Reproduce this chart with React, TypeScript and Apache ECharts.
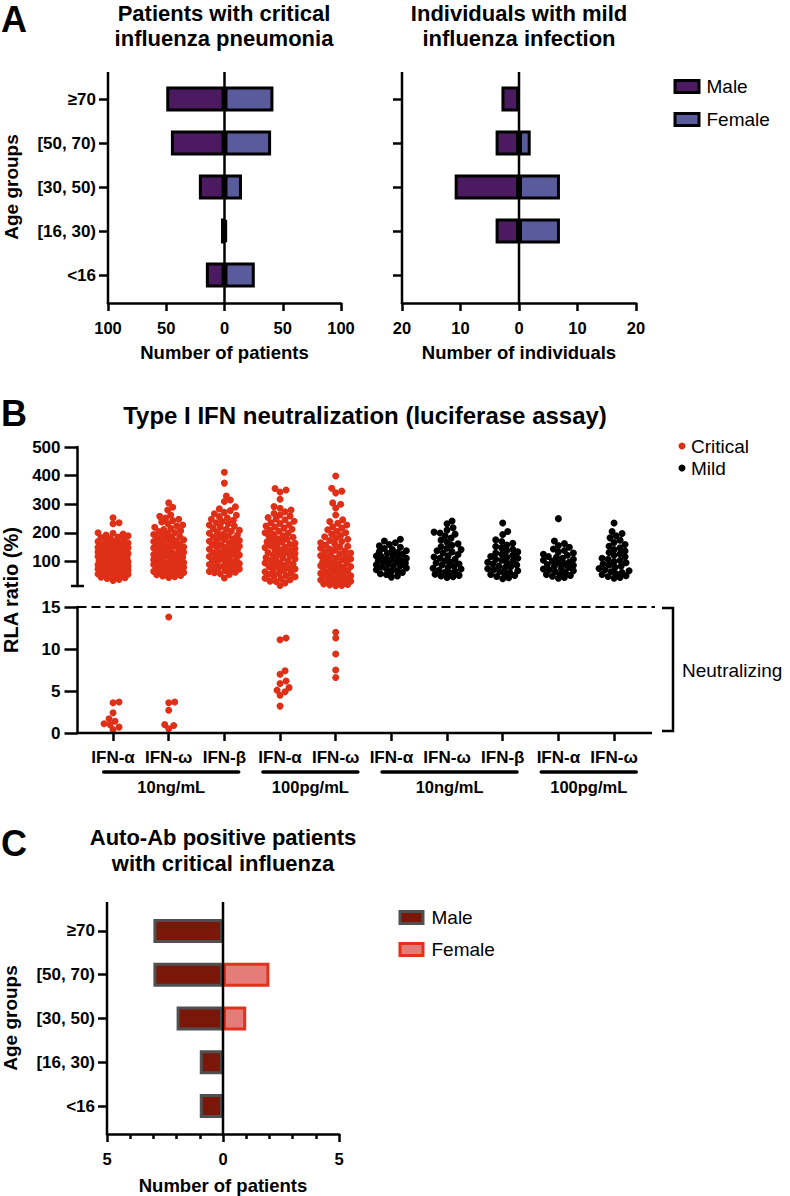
import React, { useEffect, useRef } from 'react';
import * as echarts from 'echarts';

const FONT = "'Liberation Sans', Arial, Helvetica, sans-serif";

// ---------------- Panel A data ----------------
const ageGroups = ['<16', '[16, 30)', '[30, 50)', '[50, 70)', '≥70'];
const criticalMale = [16, 3, 22, 46, 50];
const criticalFemale = [26, 2, 15, 40, 42];
const mildMale = [0, 4, 11, 4, 3];
const mildFemale = [0, 7, 7, 2, 0];

// ---------------- Panel B data ----------------
const ifnLabels = ['IFN-α', 'IFN-ω', 'IFN-β', 'IFN-α', 'IFN-ω', 'IFN-α', 'IFN-ω', 'IFN-β', 'IFN-α', 'IFN-ω'];
const doseLabels = ['10ng/mL', '100pg/mL', '10ng/mL', '100pg/mL'];
const doseSpans = [[0, 2], [3, 4], [5, 7], [8, 9]];
const rlaUpperTicks = [100, 200, 300, 400, 500];

// RLA ratio (%) >= 15, critical patients
const critIFNa10 = [34, 38, 41, 44, 46, 48, 49, 53, 55, 56, 57, 61, 63, 64, 66, 68, 71, 72, 74, 75, 78, 80, 82, 84, 85, 87, 89, 90, 93, 95, 97, 99, 100, 102, 103, 106, 108, 110, 112, 114, 115, 117, 118, 121, 122, 125, 127, 128, 130, 131, 134, 136, 139, 141, 142, 145, 147, 148, 150, 153, 155, 157, 160, 162, 165, 167, 170, 173, 175, 178, 181, 184, 186, 190, 193, 196, 199, 201, 232, 236, 253];
const critIFNw10 = [45, 47, 50, 52, 54, 55, 58, 60, 62, 64, 66, 68, 70, 73, 75, 78, 80, 83, 85, 88, 90, 92, 95, 97, 100, 102, 104, 107, 110, 112, 115, 117, 120, 122, 125, 127, 130, 133, 135, 138, 140, 143, 146, 148, 151, 154, 156, 159, 162, 165, 168, 170, 173, 176, 179, 182, 185, 188, 191, 195, 198, 201, 205, 208, 212, 216, 220, 224, 228, 233, 238, 243, 248, 252, 258, 263, 280, 290, 305];
const critIFNb10 = [43, 55, 58, 61, 63, 66, 69, 71, 74, 77, 80, 82, 85, 88, 90, 93, 96, 98, 101, 104, 107, 109, 112, 115, 118, 120, 123, 126, 129, 131, 134, 137, 140, 143, 145, 148, 151, 154, 157, 159, 162, 165, 168, 171, 174, 177, 180, 183, 186, 189, 192, 196, 199, 202, 206, 209, 213, 216, 220, 224, 228, 232, 236, 240, 244, 248, 252, 257, 262, 267, 272, 278, 284, 291, 310, 315, 329, 374, 412];
const critIFNa100 = [17, 26, 31, 32, 37, 41, 42, 47, 50, 51, 56, 59, 60, 65, 68, 69, 74, 77, 79, 83, 86, 87, 92, 95, 96, 101, 104, 105, 110, 113, 114, 119, 122, 124, 128, 131, 132, 137, 140, 141, 146, 149, 151, 155, 158, 160, 164, 168, 169, 174, 178, 180, 185, 188, 190, 195, 199, 201, 206, 210, 213, 217, 221, 224, 229, 233, 236, 241, 246, 249, 254, 259, 263, 268, 274, 280, 286, 292, 318, 343, 350, 355];
const critIFNw100 = [16, 17, 19, 20, 22, 25, 27, 29, 32, 34, 36, 39, 41, 44, 46, 49, 51, 54, 57, 59, 62, 64, 67, 70, 72, 75, 78, 80, 83, 86, 89, 91, 94, 97, 100, 103, 106, 109, 112, 115, 118, 121, 124, 127, 130, 134, 137, 140, 144, 147, 151, 154, 158, 162, 166, 170, 174, 178, 182, 187, 191, 196, 201, 206, 211, 217, 222, 228, 234, 240, 246, 263, 287, 300, 305, 340, 346, 356, 399];

// RLA ratio (%) < 15 (neutralizing), critical patients
const critLowIFNa10 = [0.4, 0.7, 1.0, 1.1, 1.4, 1.7, 2.4, 3.6, 3.7];
const critLowIFNw10 = [0.5, 0.9, 1.0, 2.7, 3.6, 3.7, 13.8];
const critLowIFNb10: number[] = [];
const critLowIFNa100 = [3.2, 4.5, 4.9, 5.1, 5.4, 5.9, 6.2, 7.0, 7.4, 11.1, 11.3];
const critLowIFNw100 = [6.6, 7.5, 9.4, 11.3, 12.0];

// mild individuals
const mildIFNa10 = [46, 50, 55, 58, 62, 66, 68, 72, 75, 78, 81, 84, 86, 89, 92, 95, 97, 100, 102, 105, 108, 110, 112, 115, 118, 120, 123, 126, 129, 132, 135, 138, 142, 146, 150, 155, 160, 166, 172, 178];
const mildIFNw10 = [45, 47, 50, 52, 56, 60, 63, 66, 70, 74, 77, 80, 84, 88, 92, 95, 99, 103, 108, 112, 116, 120, 125, 130, 134, 138, 142, 147, 152, 157, 162, 168, 175, 182, 190, 196, 200, 203, 210, 218, 232, 242];
const mildIFNb10 = [40, 44, 48, 52, 55, 58, 62, 65, 68, 72, 75, 78, 82, 85, 88, 92, 95, 98, 102, 105, 108, 112, 115, 118, 122, 126, 130, 134, 138, 143, 148, 153, 158, 164, 170, 176, 195, 205, 235];
const mildIFNa100 = [42, 45, 49, 52, 55, 58, 62, 65, 68, 71, 74, 77, 80, 84, 87, 90, 93, 96, 99, 102, 105, 108, 112, 115, 118, 122, 126, 130, 134, 139, 144, 150, 156, 163, 172, 250];
const mildIFNw100 = [42, 45, 48, 51, 55, 58, 62, 65, 68, 72, 76, 80, 84, 88, 92, 96, 100, 104, 108, 112, 117, 122, 127, 132, 137, 142, 148, 154, 160, 167, 175, 183, 190, 198, 205, 235];

// ---------------- Panel C data ----------------
const autoAbMale = [1, 1, 2, 3, 3];
const autoAbFemale = [0, 0, 1, 2, 0];

// ---------------- layout ----------------
const AX_W = 2.5;
const BLK = '#000';
const A_TOP = 77, A_H = 220, A_AXIS_Y = 303, A_AXIS_TOP = 72;
const AL = { left: 108, width: 233 };
const AR = { left: 402, width: 234 };
const B_LEFT = 85.2, B_W = 556.7, B_AXIS_X = 77.5;
const BU = { top: 447, height: 139 };
const BL = { top: 607, height: 126 };
const B_MIN = 15, B_MAX = 500, B_LOW_MAX = 15;
const C_GRID = { left: 107, top: 909, width: 232, height: 219 };
const C_AXIS_Y = 1134, C_AXIS_TOP = 902;

const COL = {
  aMale: '#4b1a60', aFemale: '#5a5b9c',
  crit: '#df2f17', mild: '#000000',
  cMale: '#7a1709', cMaleBorder: '#505050', cFemale: '#e47d79', cFemaleBorder: '#e2311d',
};

const bold = (size: number) => ({ fontFamily: FONT, fontWeight: 'bold' as const, fontSize: size, color: BLK });

// beeswarm layout: places dots side by side inside the column
function swarm(values: number[], col: number, pxPerUnit: number, base: number) {
  const bandPx = B_W / ifnLabels.length;
  const minDist = 5.6;
  const maxHalf = 15;
  const cands: number[] = [0];
  for (let k = 1; k <= maxHalf; k++) cands.push(k, -k);
  const sorted = [...values].sort((a, b) => a - b);
  const placed: { dx: number; py: number }[] = [];
  const out: number[][] = [];
  for (const v of sorted) {
    const py = (v - base) * pxPerUnit;
    let chosen: number | null = null;
    let best = -1, bestDx = 0;
    for (const dx of cands) {
      let md = Infinity;
      for (const p of placed) {
        const dy = p.py - py;
        if (Math.abs(dy) >= minDist) continue;
        const d = Math.hypot(p.dx - dx, dy);
        if (d < md) md = d;
      }
      if (md >= minDist) { chosen = dx; break; }
      if (md > best) { best = md; bestDx = dx; }
    }
    const dx = chosen === null ? bestDx : chosen;
    placed.push({ dx, py });
    out.push([col + dx / bandPx, v]);
  }
  return out;
}

// horizontal bar data: [value, categoryIndex], empty categories are left out
const barData = (arr: number[], sign: number) =>
  arr.map((v, i) => [sign * v, i]).filter((d) => d[0] !== 0);

function buildOption() {
  const upPx = BU.height / (B_MAX - B_MIN);
  const lowPx = BL.height / B_LOW_MAX;
  const critUpper = [critIFNa10, critIFNw10, critIFNb10, critIFNa100, critIFNw100];
  const critLower = [critLowIFNa10, critLowIFNw10, critLowIFNb10, critLowIFNa100, critLowIFNw100];
  const mildUpper = [mildIFNa10, mildIFNw10, mildIFNb10, mildIFNa100, mildIFNw100];
  const critUpData = critUpper.flatMap((vals, i) => swarm(vals, i, upPx, B_MIN));
  const critLowData = critLower.flatMap((vals, i) => swarm(vals, i, lowPx, 0));
  const mildData = mildUpper.flatMap((vals, i) => swarm(vals, i + 5, upPx, B_MIN));

  const catY = (gridIndex: number, labels: boolean) => ({
    type: 'category', gridIndex, data: ageGroups,
    axisLine: { show: false, onZero: false },
    axisTick: { show: true, alignWithLabel: true, length: 9, lineStyle: { color: BLK, width: AX_W } },
    axisLabel: { show: labels, margin: 12, ...bold(17) },
    splitLine: { show: false },
  });
  const valX = (gridIndex: number, max: number, interval: number, name: string, extra: any = {}) => ({
    type: 'value', gridIndex, min: -max, max, interval, offset: 6,
    axisLine: { show: true, onZero: false, lineStyle: { color: BLK, width: AX_W } },
    axisTick: { show: true, length: 8, lineStyle: { color: BLK, width: AX_W } },
    axisLabel: { margin: 16, formatter: (v: number) => String(Math.abs(v)), ...bold(16.5) },
    splitLine: { show: false },
    name, nameLocation: 'middle', nameGap: 40, nameTextStyle: bold(18.5),
    ...extra,
  });
  const barStyle = (color: string, border: string) => ({ color, borderColor: border, borderWidth: 3 });

  const bandPx = B_W / ifnLabels.length;
  const colX = (i: number) => B_LEFT + bandPx * (i + 0.5);

  const line = (x1: number, y1: number, x2: number, y2: number, extra: any = {}) => ({
    type: 'line', z: 100, shape: { x1, y1, x2, y2 },
    style: { stroke: BLK, lineWidth: AX_W, ...extra },
  });
  const text = (t: string, x: number, y: number, size: number, weight: string, align = 'center', extra: any = {}) => ({
    type: 'text', z: 100, x, y,
    style: {
      text: t, fill: BLK, fontFamily: FONT, fontSize: size, fontWeight: weight,
      textAlign: align, align, textVerticalAlign: 'middle', verticalAlign: 'middle',
    },
    ...extra,
  });

  const aLZero = AL.left + AL.width / 2;
  const aRZero = AR.left + AR.width / 2;
  const cZero = C_GRID.left + C_GRID.width / 2;

  const graphic: any[] = [
    // panel letters
    text('A', 1, 19, 36, 'bold', 'left'),
    text('B', 1, 413, 36, 'bold', 'left'),
    text('C', 1, 843, 36, 'bold', 'left'),
    // titles
    text('Patients with critical', 224, 13, 22, 'bold'),
    text('influenza pneumonia', 224, 38, 22, 'bold'),
    text('Individuals with mild', 519, 13, 22, 'bold'),
    text('influenza infection', 519, 38, 22, 'bold'),
    text('Type I IFN neutralization (luciferase assay)', 365, 415, 24, 'bold'),
    text('Auto-Ab positive patients', 223, 837, 22, 'bold'),
    text('with critical influenza', 223, 863, 22, 'bold'),
    // vertical axis titles
    text('Age groups', 11, 187, 19, 'bold', 'center', { rotation: Math.PI / 2 }),
    text('RLA ratio (%)', 11, 590, 20, 'bold', 'center', { rotation: Math.PI / 2 }),
    text('Age groups', 10, 1018, 19, 'bold', 'center', { rotation: Math.PI / 2 }),
    // panel A axis lines and zero lines
    line(AL.left, A_AXIS_TOP, AL.left, A_AXIS_Y + 1),
    line(AR.left, A_AXIS_TOP, AR.left, A_AXIS_Y + 1),
    line(aLZero, A_AXIS_TOP, aLZero, A_AXIS_Y),
    line(aRZero, A_AXIS_TOP, aRZero, A_AXIS_Y),
    // panel C axis line and zero line
    line(C_GRID.left, C_AXIS_TOP, C_GRID.left, C_AXIS_Y + 1),
    line(cZero, C_AXIS_TOP, cZero, C_AXIS_Y),
    // panel B decorations
    line(B_AXIS_X - 1, BL.top + BL.height, 652, BL.top + BL.height),
    line(71, BU.top + BU.height, 84, BU.top + BU.height),
    line(B_AXIS_X, BL.top, 655, BL.top, { lineDash: [9, 5], lineWidth: 2 }),
    {
      type: 'polyline', z: 100,
      shape: { points: [[662, BL.top + 1], [673, BL.top + 1], [673, BL.top + BL.height - 2], [662, BL.top + BL.height - 2]] },
      style: { stroke: BLK, lineWidth: AX_W, fill: null },
    },
    text('Neutralizing', 682, 670, 19, 'normal', 'left'),
  ];
  doseSpans.forEach(([a, b], k) => {
    const mid = (colX(a) + colX(b)) / 2 + 2.5;
    const half = b - a === 2 ? 67.5 : 47.5;
    graphic.push({
      type: 'line', z: 100, shape: { x1: mid - half, y1: 772, x2: mid + half, y2: 772 },
      style: { stroke: BLK, lineWidth: 3.5, lineCap: 'round' },
    });
    graphic.push(text(doseLabels[k], mid, 787, 16.5, 'bold'));
  });

  const legendText = (pad: number) => ({ fontSize: 19, fontFamily: FONT, color: BLK, padding: [0, 0, 0, pad] });

  return {
    animation: false,
    backgroundColor: '#fff',
    grid: [
      { left: AL.left, top: A_TOP, width: AL.width, height: A_H },
      { left: AR.left, top: A_TOP, width: AR.width, height: A_H },
      { left: B_LEFT, top: BU.top, width: B_W, height: BU.height },
      { left: B_LEFT, top: BL.top, width: B_W, height: BL.height },
      { left: C_GRID.left, top: C_GRID.top, width: C_GRID.width, height: C_GRID.height },
    ],
    xAxis: [
      valX(0, 100, 50, 'Number of patients'),
      valX(1, 20, 10, 'Number of individuals'),
      { type: 'value', gridIndex: 2, min: -0.5, max: 9.5, show: false },
      {
        type: 'category', gridIndex: 3, data: ifnLabels.map((_, i) => 'c' + i),
        axisLine: { show: false, onZero: false },
        axisTick: { show: true, alignWithLabel: true, length: 8, lineStyle: { color: BLK, width: AX_W } },
        axisLabel: { interval: 0, margin: 16, formatter: (_v: string, i: number) => ifnLabels[i], ...bold(17) },
        splitLine: { show: false },
      },
      { type: 'value', gridIndex: 3, min: -0.5, max: 9.5, show: false },
      valX(4, 5, 5, 'Number of patients', {
        nameGap: 42,
        minorTick: { show: true, splitNumber: 5, length: 5, lineStyle: { color: BLK, width: AX_W } },
        minorSplitLine: { show: false },
      }),
    ],
    yAxis: [
      catY(0, true),
      catY(1, false),
      {
        type: 'value', gridIndex: 2, min: B_MIN, max: B_MAX, offset: B_LEFT - B_AXIS_X,
        axisLine: { show: true, onZero: false, lineStyle: { color: BLK, width: AX_W } },
        axisTick: { show: true, length: 13, customValues: rlaUpperTicks, lineStyle: { color: BLK, width: AX_W } },
        axisLabel: { margin: 17, customValues: rlaUpperTicks, ...bold(17) },
        splitLine: { show: false },
      },
      {
        type: 'value', gridIndex: 3, min: 0, max: B_LOW_MAX, interval: 5, offset: B_LEFT - B_AXIS_X,
        axisLine: { show: true, onZero: false, lineStyle: { color: BLK, width: AX_W } },
        axisTick: { show: true, length: 13, lineStyle: { color: BLK, width: AX_W } },
        axisLabel: { margin: 17, ...bold(17) },
        splitLine: { show: false },
      },
      catY(4, true),
    ],
    legend: [
      {
        data: ['Male', 'Female'], orient: 'vertical', left: 668.5, top: 72, itemWidth: 24, itemHeight: 12,
        itemGap: 14, icon: 'rect', itemStyle: { borderWidth: 3 }, textStyle: legendText(2.5), selectedMode: false,
      },
      {
        data: ['Critical', 'Mild'], orient: 'vertical', left: 673.5, top: 431.5, itemWidth: 7, itemHeight: 7,
        itemGap: 3, icon: 'circle', textStyle: legendText(0.5), selectedMode: false,
      },
      {
        data: ['Male (C)', 'Female (C)'], formatter: (n: string) => n.replace(' (C)', ''),
        orient: 'vertical', left: 393.5, top: 903, itemWidth: 23, itemHeight: 12,
        itemGap: 13, icon: 'rect', itemStyle: { borderWidth: 3 }, textStyle: legendText(3.5), selectedMode: false,
      },
    ],
    series: [
      { name: 'Male', type: 'bar', xAxisIndex: 0, yAxisIndex: 0, data: barData(criticalMale, -1), barWidth: 25, barGap: '-100%', itemStyle: barStyle(COL.aMale, BLK) },
      { name: 'Female', type: 'bar', xAxisIndex: 0, yAxisIndex: 0, data: barData(criticalFemale, 1), barWidth: 25, barGap: '-100%', itemStyle: barStyle(COL.aFemale, BLK) },
      { name: 'Male', type: 'bar', xAxisIndex: 1, yAxisIndex: 1, data: barData(mildMale, -1), barWidth: 25, barGap: '-100%', itemStyle: barStyle(COL.aMale, BLK) },
      { name: 'Female', type: 'bar', xAxisIndex: 1, yAxisIndex: 1, data: barData(mildFemale, 1), barWidth: 25, barGap: '-100%', itemStyle: barStyle(COL.aFemale, BLK) },
      { name: 'Critical', type: 'scatter', xAxisIndex: 2, yAxisIndex: 2, data: critUpData, symbolSize: 7, itemStyle: { color: COL.crit, opacity: 1 } },
      { name: 'Critical', type: 'scatter', xAxisIndex: 4, yAxisIndex: 3, data: critLowData, symbolSize: 7, itemStyle: { color: COL.crit, opacity: 1 } },
      { name: 'Mild', type: 'scatter', xAxisIndex: 2, yAxisIndex: 2, data: mildData, symbolSize: 7, itemStyle: { color: COL.mild, opacity: 1 } },
      { name: 'Male (C)', type: 'bar', xAxisIndex: 5, yAxisIndex: 4, data: barData(autoAbMale, -1), barWidth: 24, barGap: '-100%', itemStyle: barStyle(COL.cMale, COL.cMaleBorder) },
      { name: 'Female (C)', type: 'bar', xAxisIndex: 5, yAxisIndex: 4, data: barData(autoAbFemale, 1), barWidth: 24, barGap: '-100%', itemStyle: barStyle(COL.cFemale, COL.cFemaleBorder) },
    ],
    graphic,
  };
}

export default function App() {
  const ref = useRef<HTMLDivElement>(null);
  useEffect(() => {
    document.body.style.margin = '0';
    const chart = echarts.init(ref.current as HTMLDivElement, undefined, { renderer: 'svg' });
    chart.setOption(buildOption() as any);
    return () => chart.dispose();
  }, []);
  return (
    <div
      ref={ref}
      style={{ position: 'absolute', left: 0, top: 0, width: 790, height: 1196, background: '#fff' }}
    />
  );
}
